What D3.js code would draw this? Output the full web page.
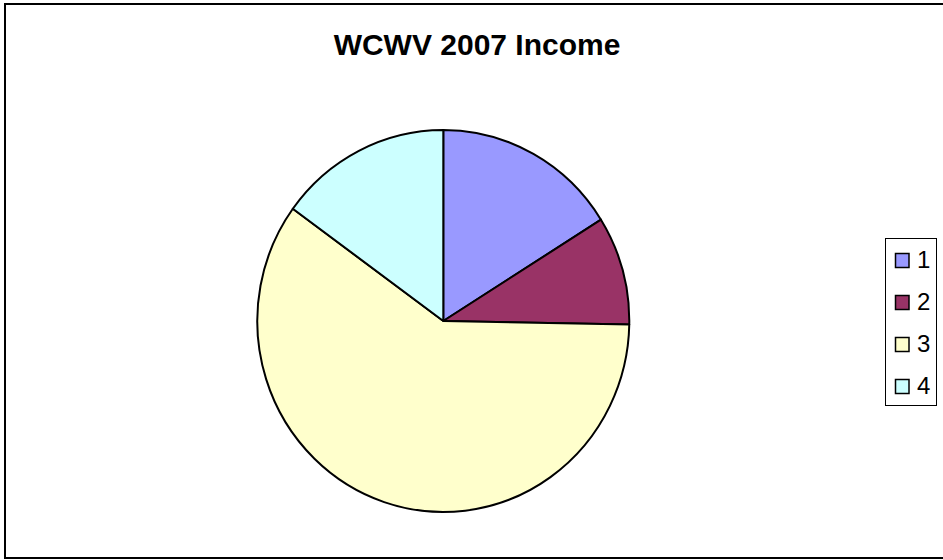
<!DOCTYPE html>
<html>
<head>
<meta charset="utf-8">
<script src="https://cdn.jsdelivr.net/npm/d3@7"></script>
<style>
  html, body { margin: 0; padding: 0; background: #fff; }
  svg { display: block; }
</style>
</head>
<body>
<svg id="chart" width="943" height="560"></svg>
<script>
const title = "WCWV 2007 Income";
const categories = ["1", "2", "3", "4"];
const values = [16.1, 9.2, 59.7, 15.0];
const colors = ["#9999FF", "#993366", "#FFFFCC", "#CCFFFF"];

const svg = d3.select("#chart");
const W = 943, H = 560;

// outer frame
svg.append("rect")
  .attr("x", 5).attr("y", 4)
  .attr("width", W + 10).attr("height", 554)
  .attr("fill", "#fff").attr("stroke", "#000").attr("stroke-width", 2);

// title
svg.append("text")
  .attr("x", 477).attr("y", 55)
  .attr("text-anchor", "middle")
  .attr("font-family", "Liberation Sans, Arial, sans-serif")
  .attr("font-weight", "bold")
  .attr("font-size", 30)
  .attr("fill", "#000")
  .text(title);

// pie
const cx = 443.3, cy = 321, rx = 186, ry = 191;
const data = categories.map((c, i) => ({ cat: c, value: values[i], color: colors[i] }));
const pie = d3.pie().value(d => d.value).sort(null);
const arc = d3.arc().innerRadius(0).outerRadius(ry);

const g = svg.append("g")
  .attr("transform", `translate(${cx},${cy}) scale(${rx / ry},1)`);

g.selectAll("path")
  .data(pie(data))
  .join("path")
  .attr("d", arc)
  .attr("fill", d => d.data.color)
  .attr("stroke", "#000")
  .attr("stroke-width", 2)
  .attr("stroke-linejoin", "round")
  .attr("vector-effect", "non-scaling-stroke");

// legend
const lx = 885.5, ly = 238.5, lw = 51, lh = 167;
svg.append("rect")
  .attr("x", lx).attr("y", ly).attr("width", lw).attr("height", lh)
  .attr("fill", "#fff").attr("stroke", "#000").attr("stroke-width", 1);

const rowY = d3.scalePoint().domain(categories).range([260.5, 386.5]);

const items = svg.append("g").selectAll("g")
  .data(data)
  .join("g")
  .attr("transform", d => `translate(0,${rowY(d.cat)})`);

items.append("rect")
  .attr("x", 895.5).attr("y", -7)
  .attr("width", 13.5).attr("height", 14)
  .attr("fill", d => d.color)
  .attr("stroke", "#000").attr("stroke-width", 1.5);

items.append("text")
  .attr("x", 917).attr("y", 7.5)
  .attr("font-family", "Liberation Sans, Arial, sans-serif")
  .attr("font-size", 24)
  .attr("fill", "#000")
  .text(d => d.cat);
</script>
</body>
</html>
